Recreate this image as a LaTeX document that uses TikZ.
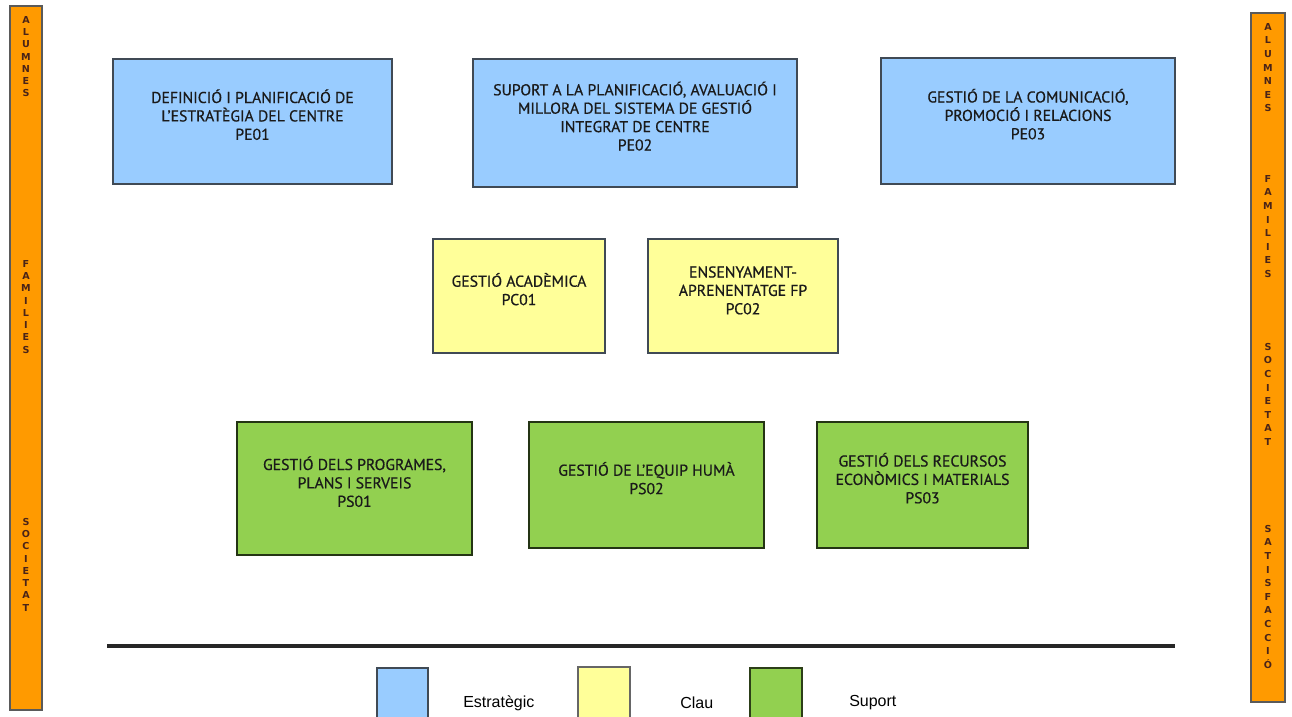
\documentclass[tikz,border=0pt]{standalone}
\usepackage{fontspec}
\setmainfont{PT Sans}
\newfontfamily\boxfont[FakeBold=0.6]{PT Sans}
\newfontfamily\barfont{DejaVu Sans}
\newfontfamily\legfont{Liberation Sans}
\usetikzlibrary{fit}
\definecolor{barorange}{HTML}{FF9A00}
\definecolor{barline}{HTML}{5A5A5A}
\definecolor{estblue}{HTML}{99CCFF}
\definecolor{clauyellow}{HTML}{FFFF99}
\definecolor{supgreen}{HTML}{92D050}
\definecolor{boxline}{HTML}{404A55}
\definecolor{txtdark}{HTML}{1A1A1A}
\definecolor{bartxt}{HTML}{4A2418}
\tikzset{
  procbox/.style={draw=boxline, line width=1.1pt, inner sep=0pt, align=center,
     text=txtdark, font=\boxfont\fontsize{11.8}{13.8}\selectfont},
  pebox/.style={procbox, fill=estblue},
  pcbox/.style={procbox, fill=clauyellow},
  psbox/.style={procbox, fill=supgreen, draw=black!75!supgreen},
  sidebar/.style={draw=barline, line width=1pt, fill=barorange, inner sep=0pt},
  sidetxtL/.style={anchor=north, align=center, inner sep=0pt, text=bartxt,
     font=\barfont\bfseries\fontsize{7.2}{9.2}\selectfont},
  sidetxtR/.style={sidetxtL, font=\barfont\bfseries\fontsize{7.2}{10.2}\selectfont},
  legbox/.style={draw=boxline, line width=0.9pt, inner sep=0pt},
  legtxt/.style={anchor=west, inner sep=0pt, font=\legfont\fontsize{12}{13}\selectfont}
}
\begin{document}
\begin{tikzpicture}[x=0.75pt,y=-0.75pt]
\useasboundingbox (0,0) rectangle (1292,717);
% side bars
\node[sidebar, fit={(10,6) (42,710)}] (lbar) {};
\node[sidebar, fit={(1251,13) (1285,702)}] (rbar) {};
\node[sidetxtL] (l1) at (26,16) {A\\L\\U\\M\\N\\E\\S};
\node[sidetxtL] (l2) at (26,260) {F\\A\\M\\I\\L\\I\\E\\S};
\node[sidetxtL] (l3) at (26,518) {S\\O\\C\\I\\E\\T\\A\\T};
\node[sidetxtR] (r1) at (1268,23) {A\\L\\U\\M\\N\\E\\S};
\node[sidetxtR] (r2) at (1268,175) {F\\A\\M\\I\\L\\I\\E\\S};
\node[sidetxtR] (r3) at (1268,343) {S\\O\\C\\I\\E\\T\\A\\T};
\node[sidetxtR] (r4) at (1268,525) {S\\A\\T\\I\\S\\F\\A\\C\\C\\I\\Ó};
% strategic
\node[pebox, fit={(113,59) (392,184)}] (pe01) {DEFINICIÓ I PLANIFICACIÓ DE\\L’ESTRATÈGIA DEL CENTRE\\PE01};
\node[pebox, fit={(473,59) (797,187)}] (pe02) {SUPORT A LA PLANIFICACIÓ, AVALUACIÓ I\\MILLORA DEL SISTEMA DE GESTIÓ\\INTEGRAT DE CENTRE\\PE02};
\node[pebox, fit={(881,58) (1175,184)}] (pe03) {GESTIÓ DE LA COMUNICACIÓ,\\PROMOCIÓ I RELACIONS\\PE03};
% key
\node[pcbox, fit={(433,239) (605,353)}] (pc01) {GESTIÓ ACADÈMICA\\PC01\\[2pt]};
\node[pcbox, fit={(648,239) (838,353)}] (pc02) {ENSENYAMENT-\\APRENENTATGE FP\\PC02};
% support
\node[psbox, fit={(237,422) (472,555)}] (ps01) {GESTIÓ DELS PROGRAMES,\\PLANS I SERVEIS\\PS01};
\node[psbox, fit={(529,422) (764,548)}] (ps02) {GESTIÓ DE L’EQUIP HUMÀ\\PS02\\[13.8pt]};
\node[psbox, fit={(817,422) (1028,548)}] (ps03) {GESTIÓ DELS RECURSOS\\ECONÒMICS I MATERIALS\\PS03};
% rule
\coordinate (ruleL) at (107,646);
\coordinate (ruleR) at (1175,646);
\draw[line width=2.4pt, black!85] (ruleL) -- (ruleR);
% legend
\node[legbox, fill=estblue, fit={(377,668) (428,718)}] (lgE) {};
\node[legbox, fill=clauyellow, draw=black!60, fit={(578,667) (630,718)}] (lgC) {};
\node[legbox, fill=supgreen, draw=black!70!supgreen, fit={(750,668) (802,718)}] (lgS) {};
\node[legtxt] (tE) at (463,703) {Estratègic};
\node[legtxt] (tC) at (680,703) {Clau};
\node[legtxt] (tS) at (849,703) {Suport};
\end{tikzpicture}
\end{document}
